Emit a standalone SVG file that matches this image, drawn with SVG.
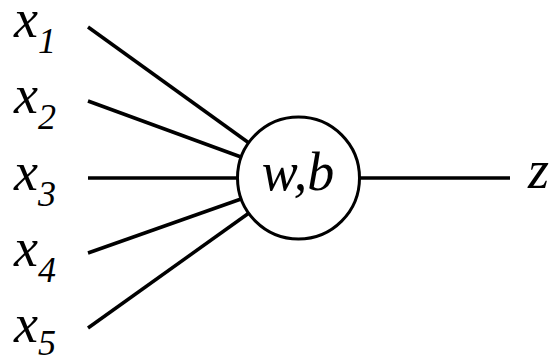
<svg xmlns="http://www.w3.org/2000/svg" width="551" height="357" viewBox="0 0 551 357">
<rect width="551" height="357" fill="#fff"/>
<g id="connectors" stroke="#000" stroke-width="3.5" fill="none">
<line x1="88" y1="27" x2="249" y2="143"/>
<line x1="88" y1="101" x2="241" y2="157"/>
<line x1="88" y1="178" x2="238" y2="178"/>
<line x1="88" y1="253" x2="241" y2="199"/>
<line x1="88" y1="328" x2="249" y2="213"/>
<line x1="360" y1="178" x2="510" y2="178"/>
</g>
<g id="x1" transform="translate(14,37) scale(1.8)"><text x="0" y="0" font-family="Liberation Serif" font-style="italic" font-size="30">x<tspan font-size="20" dy="9">1</tspan></text></g>
<g id="x2" transform="translate(14,113) scale(1.8)"><text x="0" y="0" font-family="Liberation Serif" font-style="italic" font-size="30">x<tspan font-size="20" dy="9">2</tspan></text></g>
<g id="x3" transform="translate(14,190) scale(1.8)"><text x="0" y="0" font-family="Liberation Serif" font-style="italic" font-size="30">x<tspan font-size="20" dy="9">3</tspan></text></g>
<g id="x4" transform="translate(14,266) scale(1.8)"><text x="0" y="0" font-family="Liberation Serif" font-style="italic" font-size="30">x<tspan font-size="20" dy="9">4</tspan></text></g>
<g id="x5" transform="translate(14,342) scale(1.8)"><text x="0" y="0" font-family="Liberation Serif" font-style="italic" font-size="30">x<tspan font-size="20" dy="7">5</tspan></text></g>
<g id="neuron">
<circle cx="298.5" cy="178" r="61" fill="#fff" stroke="#000" stroke-width="3"/>
<g transform="translate(298,190) scale(1.8)"><text x="0" y="0" text-anchor="middle" font-family="Liberation Serif" font-style="italic" font-size="30">w,b</text></g>
</g>
<g id="z" transform="translate(528,188) scale(1.8)"><text x="0" y="0" font-family="Liberation Serif" font-style="italic" font-size="30">z</text></g>
</svg>
